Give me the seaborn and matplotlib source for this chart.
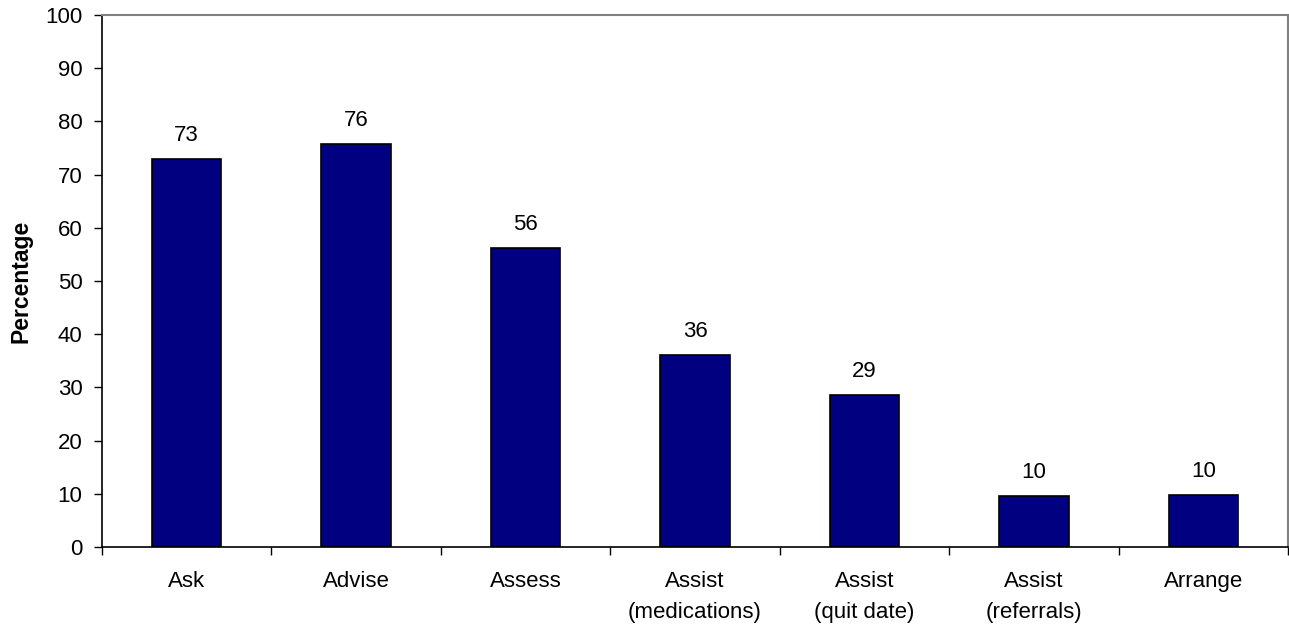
import matplotlib
matplotlib.use("Agg")
import matplotlib.pyplot as plt
import seaborn as sns
import pandas as pd
import numpy as np

categories = ["Ask", "Advise", "Assess", "Assist\n(medications)",
              "Assist\n(quit date)", "Assist\n(referrals)", "Arrange"]
percentages = [72.9, 75.7, 56.2, 36.1, 28.6, 9.5, 9.8]
y_ticks = [0, 10, 20, 30, 40, 50, 60, 70, 80, 90, 100]

sns.set_theme(style="white")
plt.rcParams["font.family"] = ["Liberation Sans", "DejaVu Sans"]
plt.rcParams["text.color"] = "black"
plt.rcParams["xtick.color"] = "black"
plt.rcParams["ytick.color"] = "black"
plt.rcParams["axes.labelcolor"] = "black"

df = pd.DataFrame({"step": categories, "pct": percentages})

fig = plt.figure(figsize=(12.89, 6.26), dpi=100)
ax = fig.add_axes([102 / 1289, 1 - 547 / 626, (1288 - 102) / 1289, (547 - 15) / 626])

sns.barplot(data=df, x="step", y="pct", order=categories, color="#000080",
            saturation=1, width=0.41, edgecolor="black", linewidth=1.2, ax=ax)

for i, v in enumerate(percentages):
    ax.annotate(f"{v:.0f}", xy=(i, v), xytext=(0, 9.5), textcoords="offset points",
                ha="center", va="bottom", fontsize=16, color="black")

ax.set_xlim(-0.5, len(categories) - 0.5)
ax.set_ylim(0, 100)
ax.set_yticks(y_ticks)
ax.set_yticklabels([str(t) for t in y_ticks], fontsize=16)
ax.set_xticks(range(len(categories)))
ax.set_xticklabels(categories, fontsize=16, linespacing=1.65)
ax.set_xticks(np.arange(-0.5, len(categories) + 0.5, 1), minor=True)

ax.tick_params(axis="x", which="major", length=0, pad=17, bottom=True)
ax.tick_params(axis="x", which="minor", length=6, width=1, color="black",
               direction="out", bottom=True)
ax.tick_params(axis="y", which="major", length=6, width=1, color="black",
               direction="out", left=True, pad=8)

ax.set_xlabel("")
ax.set_ylabel("Percentage", fontsize=16.5, fontweight="bold", labelpad=9.5)

for side in ("left", "bottom"):
    ax.spines[side].set_color("black")
    ax.spines[side].set_linewidth(1.2)
for side in ("top", "right"):
    ax.spines[side].set_visible(True)
    ax.spines[side].set_color("#808080")
    ax.spines[side].set_linewidth(1.5)

fig.savefig("out.png", dpi=100, facecolor="white")
